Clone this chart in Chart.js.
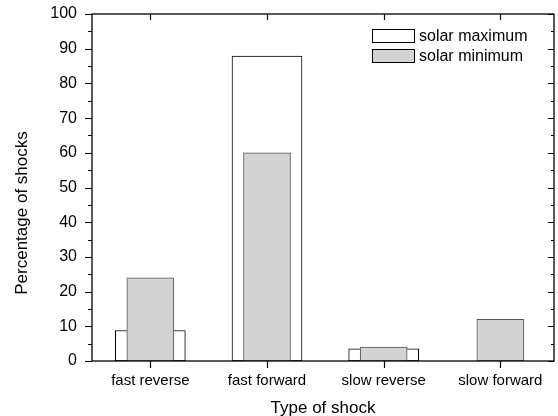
<!DOCTYPE html>
<html>
<head>
<meta charset="utf-8">
<script src="https://cdn.jsdelivr.net/npm/chart.js@4"></script>
<style>
html, body { margin: 0; padding: 0; background: #fff; }
</style>
</head>
<body>
<canvas id="shockChart" width="558" height="416"></canvas>
<script>
var categories = ["fast reverse", "fast forward", "slow reverse", "slow forward"];
var solarMax = [8.8, 87.9, 3.5, 0];
var solarMin = [24, 60, 4, 12];
var seriesNames = ["solar maximum", "solar minimum"];
var yTicks = [0, 10, 20, 30, 40, 50, 60, 70, 80, 90, 100];

var FONT = "'Liberation Sans', Arial, sans-serif";

function points(vals) {
    return vals.map(function (v, i) { return { x: i + 1, y: v }; });
}

// frame, inward/outward tick marks, y title and the boxed legend
var framePlugin = {
    id: "frame",
    afterDraw: function (chart) {
        var ctx = chart.ctx, a = chart.chartArea;
        var xs = chart.scales.x, ys = chart.scales.y;
        ctx.save();
        ctx.strokeStyle = "#000";
        ctx.lineWidth = 1.3;
        ctx.strokeRect(a.left, a.top, a.right - a.left, a.bottom - a.top);

        ctx.lineWidth = 1.2;
        ctx.beginPath();
        for (var v = 0; v <= 100; v += 5) {
            var py = Math.round(ys.getPixelForValue(v)) + 0.5;
            var major = v % 10 === 0;
            ctx.moveTo(a.left - (major ? 7 : 4), py);
            ctx.lineTo(a.left, py);
            ctx.moveTo(a.right, py);
            ctx.lineTo(a.right - (major ? 6 : 3), py);
        }
        categories.forEach(function (c, i) {
            var px = Math.round(xs.getPixelForValue(i + 1)) + 0.5;
            ctx.moveTo(px, a.bottom);
            ctx.lineTo(px, a.bottom + 7);
            ctx.moveTo(px, a.top);
            ctx.lineTo(px, a.top + 6);
        });
        ctx.stroke();

        // y axis title
        ctx.fillStyle = "#000";
        ctx.font = "17px " + FONT;
        ctx.textAlign = "center";
        ctx.textBaseline = "middle";
        ctx.save();
        ctx.translate(22, 213);
        ctx.rotate(-Math.PI / 2);
        ctx.fillText("Percentage of shocks", 0, 0);
        ctx.restore();

        // legend
        ctx.font = "16px " + FONT;
        ctx.textAlign = "left";
        ctx.lineWidth = 1;
        chart.data.datasets.forEach(function (ds, i) {
            var ly = a.top + 15.5 + i * 20;
            ctx.fillStyle = ds.backgroundColor;
            ctx.fillRect(372.5, ly, 42, 13);
            ctx.strokeStyle = "#000";
            ctx.strokeRect(372.5, ly, 42, 13);
            ctx.fillStyle = "#000";
            ctx.fillText(ds.label, 419, ly + 7);
        });
        ctx.restore();
    }
};

new Chart("shockChart", {
    type: "bar",
    data: {
        datasets: [{
            label: seriesNames[0],
            data: points(solarMax),
            backgroundColor: "#ffffff",
            borderColor: "#000000",
            borderWidth: 1,
            borderSkipped: false,
            barThickness: 70,
            order: 2
        }, {
            label: seriesNames[1],
            data: points(solarMin),
            backgroundColor: "#d3d3d3",
            borderColor: "#555555",
            borderWidth: 1,
            borderSkipped: false,
            barThickness: 47,
            order: 1
        }]
    },
    options: {
        responsive: false,
        animation: false,
        layout: {
            padding: { left: 0, right: 4, top: 14, bottom: 0 }
        },
        datasets: {
            bar: { grouped: false }
        },
        plugins: {
            legend: { display: false },
            tooltip: { enabled: false }
        },
        scales: {
            x: {
                type: "linear",
                offset: false,
                min: 0.5,
                max: 4.46,
                afterBuildTicks: function (s) {
                    s.ticks = categories.map(function (c, i) { return { value: i + 1 }; });
                },
                afterFit: function (s) {
                    s.height = 55;
                    s.paddingLeft = 0;
                    s.paddingRight = 0;
                },
                ticks: {
                    color: "#000",
                    font: { family: FONT, size: 15 },
                    padding: 11,
                    maxRotation: 0,
                    callback: function (v) { return categories[v - 1]; }
                },
                grid: { display: false, drawTicks: false, offset: false },
                border: { display: false },
                title: {
                    display: true,
                    text: "Type of shock",
                    color: "#000",
                    font: { family: FONT, size: 17 },
                    padding: { top: 0, bottom: -3 }
                }
            },
            y: {
                min: 0,
                max: 100,
                afterBuildTicks: function (s) {
                    s.ticks = yTicks.map(function (v) { return { value: v }; });
                },
                afterFit: function (s) {
                    s.width = 92;
                    s.paddingTop = 0;
                    s.paddingBottom = 0;
                },
                ticks: {
                    color: "#000",
                    font: { family: FONT, size: 16 },
                    padding: 15
                },
                grid: { display: false, drawTicks: false },
                border: { display: false }
            }
        }
    },
    plugins: [framePlugin]
});
</script>
</body>
</html>
